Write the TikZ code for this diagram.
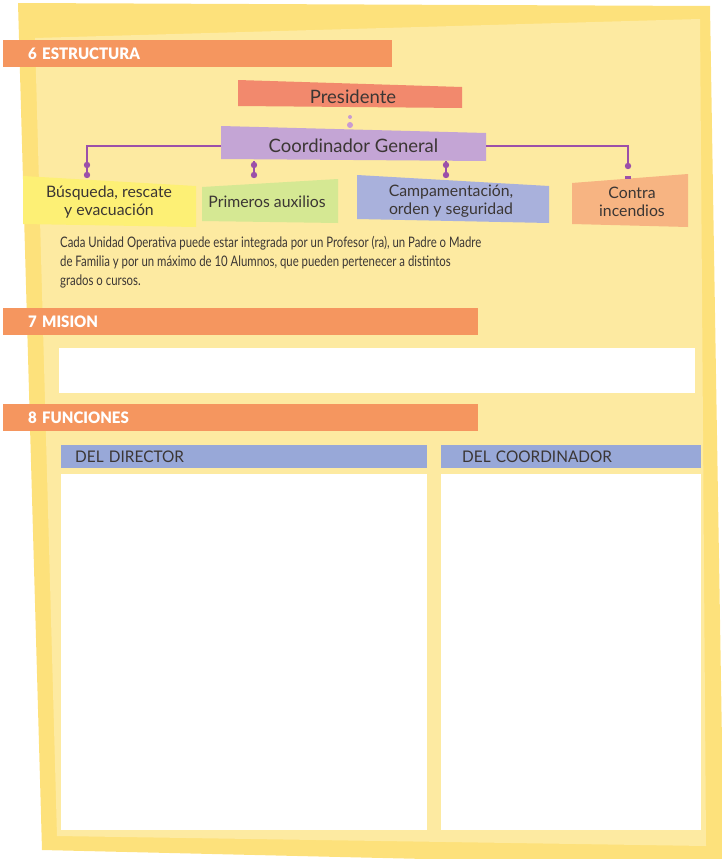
\documentclass[tikz,border=0pt]{standalone}
\usepackage{fontspec}
\setmainfont{Lato}
\newfontfamily\narrowfont[FakeStretch=0.785]{Lato}
\newfontfamily\headfont[FakeStretch=0.96]{Lato}
\IfFontExistsTF{Lato Black}
  {\newfontfamily\barfont[FakeStretch=0.95]{Lato Black}}
  {\newfontfamily\barfont[FakeStretch=0.95,FakeBold=2]{Lato}}
\definecolor{yelout}{HTML}{FDE17B}
\definecolor{yelin}{HTML}{FDEAA1}
\definecolor{barc}{HTML}{F5965F}
\definecolor{presc}{HTML}{F2896D}
\definecolor{coordc}{HTML}{C4A5D5}
\definecolor{busqc}{HTML}{FDF075}
\definecolor{primc}{HTML}{D5E893}
\definecolor{campc}{HTML}{A9B1DC}
\definecolor{firec}{HTML}{F7B482}
\definecolor{linkc}{HTML}{9C50A9}
\definecolor{dotc}{HTML}{C99BD2}
\definecolor{headc}{HTML}{98A8D8}
\definecolor{inkc}{HTML}{3B3634}
\tikzset{
  secbar/.style={anchor=north west,fill=barc,text=white,align=left,inner xsep=25pt,inner ysep=0pt,
    minimum height=27pt,font=\barfont\fontsize{15.8}{18}\selectfont},
  colhead/.style={anchor=north west,fill=headc,text=inkc,align=left,inner ysep=0pt,
    minimum height=23pt,font=\headfont\fontsize{16}{18}\selectfont},
  blank/.style={anchor=north west,fill=white,inner sep=0pt},
  orgbox/.style={text=inkc,align=center,inner sep=0pt,font=\fontsize{15.8}{18.5}\selectfont},
  linkline/.style={draw=linkc,line width=1.2pt}
}
\begin{document}
\begin{tikzpicture}[x=1pt,y=-1pt]
\useasboundingbox (0,0) rectangle (721,859);
% sheet
\fill[yelout] (18,3) -- (710,6) -- (724,866) -- (42,850) -- cycle;
\fill[yelin] (35,38) -- (700,19) -- (706,846) -- (57,836) -- cycle;
%
% section bars
\node[secbar,text width=339pt] (estructura) at (3,40) {6 ESTRUCTURA};
\node[secbar,text width=425pt] (mision) at (3,308) {7 MISION};
\node[secbar,text width=425pt] (funciones) at (3,404) {8 FUNCIONES};
%
% org chart shapes
\fill[presc] (238,80) -- (462,87) -- (462,108) -- (238,106) -- cycle;
\fill[coordc] (221,126) -- (486,133) -- (486,161) -- (221,159) -- cycle;
\fill[busqc] (23,176) -- (196,186) -- (196,227) -- (23,224) -- cycle;
\fill[primc] (202,187) -- (338,179) -- (338,223) -- (202,221) -- cycle;
\fill[campc] (357,175) -- (549,186) -- (549,223) -- (357,219) -- cycle;
\fill[firec] (572,183) -- (688,174) -- (688,227) -- (572,224) -- cycle;
%
\node[orgbox,minimum width=224pt,minimum height=24pt,font=\fontsize{18.5}{20}\selectfont] (pres) at (353,97) {Presidente};
\node[orgbox,minimum width=265pt,minimum height=30pt,font=\fontsize{18.5}{20}\selectfont] (coord) at (353.5,146) {Coordinador General};
\node[orgbox] (busq) at (109,202) {Búsqueda, rescate\\y evacuación};
\node[orgbox] (prim) at (267,202) {Primeros auxilios};
\node[orgbox] (camp) at (451,201) {Campamentación,\\orden y seguridad};
\node[orgbox] (fire) at (632,202) {Contra\\incendios};
%
\coordinate (tbusq) at (87,176);
\coordinate (tprim) at (254,176);
\coordinate (tcamp) at (446,176);
\coordinate (tfire) at (628,166);
%
\draw[linkline] (coord.west) -| (tbusq);
\draw[linkline] (coord.east) -| (tfire);
\draw[linkline] (coord.south -| tprim) -- (tprim);
\draw[linkline] (coord.south -| tcamp) -- (tcamp);
%
\fill[dotc] (350,117) circle (2);
\fill[dotc] (350,125) circle (3);
\fill[linkc] (87,165) circle (3.2);
\fill[linkc] (87,175) circle (3.2);
\fill[linkc] (254,165) circle (3.2);
\fill[linkc] (254,175) circle (3.2);
\fill[linkc] (446,165) circle (3.2);
\fill[linkc] (446,175) circle (3.2);
\fill[linkc] (628,166) circle (3.2);
\fill[linkc] (625,176) rectangle (631,178.5);
%
\node[anchor=north west,align=left,inner sep=0pt,text=inkc,font=\narrowfont\fontsize{14.5}{19}\selectfont] (texto) at (60,236)
  {Cada Unidad Operativa puede estar integrada por un Profesor (ra), un Padre o Madre\\
   de Familia y por un máximo de 10 Alumnos, que pueden pertenecer a distintos\\
   grados o cursos.};
%
% blank fields
\node[blank,minimum width=636pt,minimum height=45pt] (misionbox) at (59,348) {};
\node[colhead,text width=338pt,inner xsep=14pt] (director) at (61,445) {DEL DIRECTOR};
\node[colhead,text width=218pt,inner xsep=21pt] (coordinador) at (441,445) {DEL COORDINADOR};
\node[blank,minimum width=366pt,minimum height=356pt] (directorbox) at (61,474) {};
\node[blank,minimum width=260pt,minimum height=356pt] (coordinadorbox) at (441,474) {};
\end{tikzpicture}
\end{document}
